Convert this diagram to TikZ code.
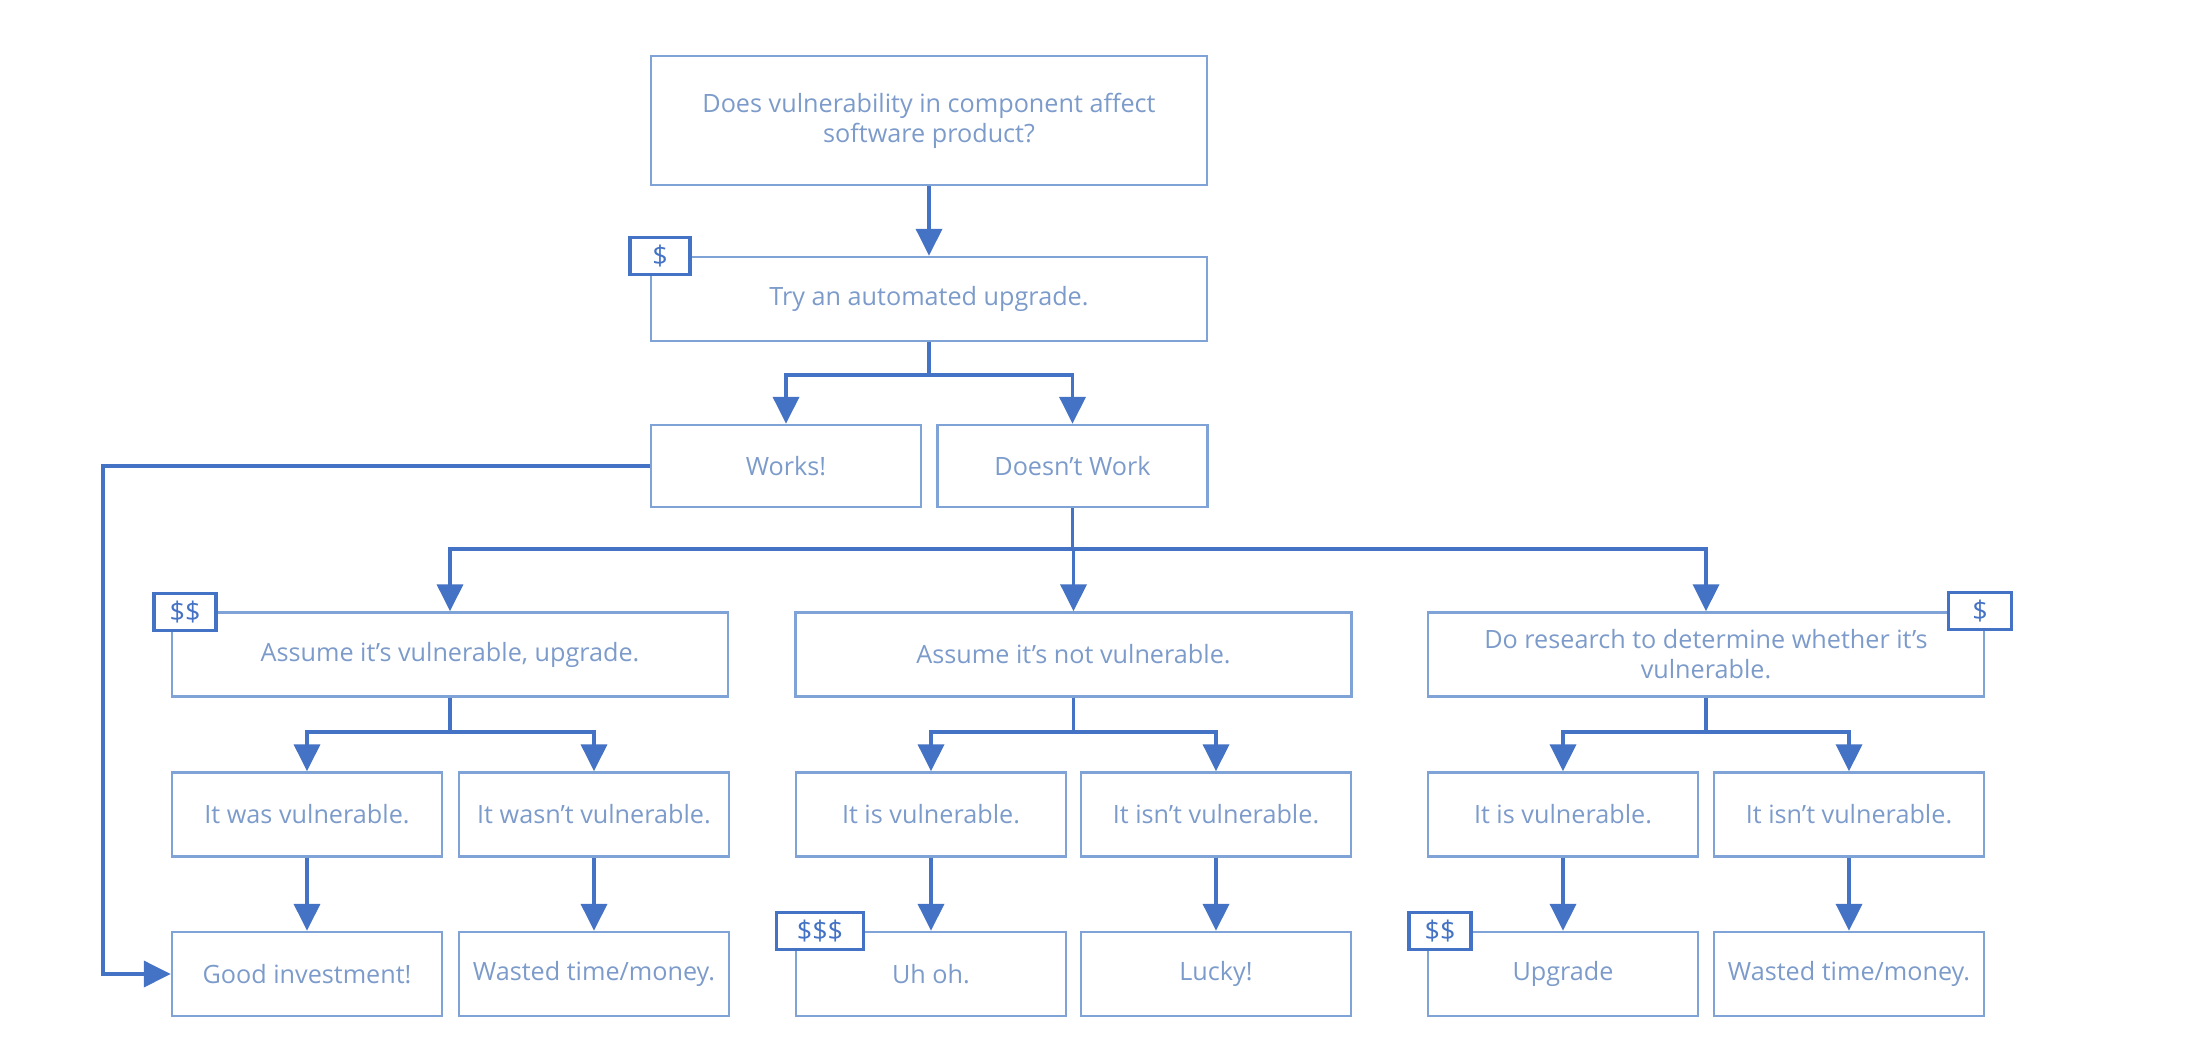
\documentclass[tikz,border=0pt]{standalone}
\usepackage{fontspec}
\setmainfont{Open Sans}
\usepackage{xcolor}
\usetikzlibrary{arrows.meta}
\definecolor{boxline}{HTML}{7FA3D7}
\definecolor{boxtext}{HTML}{7C9BCA}
\definecolor{linkblue}{HTML}{4472C4}

\begin{document}
\begin{tikzpicture}[x=0.5pt,y=-0.5pt,
  box/.style={draw=boxline, line width=1.2pt, text=boxtext, align=center, inner sep=0pt,
    minimum height=42pt, font=\fontsize{12.6}{15}\selectfont},
  wide/.style={box, minimum width=278pt},
  half/.style={box, minimum width=135pt},
  cost/.style={draw=linkblue, line width=1.8pt, fill=white, text=linkblue, inner sep=0pt,
    minimum height=18.5pt, font=\fontsize{13.5}{15}\selectfont},
  link/.style={draw=linkblue, line width=1.8pt, -{Triangle[length=13.5pt,width=13pt]}}]
\useasboundingbox (0,0) rectangle (2186,1054);
\node [wide, minimum height=64.5pt] (question) at (929,120.5)
  {Does vulnerability in component affect\\software product?};
\node [wide] (autoup) at (929,299) {Try an automated upgrade.};
\node [half, minimum height=41pt] (works) at (786,466) {Works!};
\node [half, minimum height=41pt] (fails) at (1072.5,466) {Doesn’t Work};
\node [wide] (assumeyes) at (450,654.5) {Assume it’s vulnerable, upgrade.};
\node [wide] (assumeno) at (1073.5,654.5) {Assume it’s not vulnerable.};
\node [wide] (research) at (1706,654.5) {Do research to determine whether it’s\\vulnerable.};
\node [half] (wasvuln) at (307,814.5) {It was vulnerable.};
\node [half] (wasnt) at (594,814.5) {It wasn’t vulnerable.};
\node [half] (isvuln) at (931,814.5) {It is vulnerable.};
\node [half] (isnt) at (1216,814.5) {It isn’t vulnerable.};
\node [half] (foundvuln) at (1563,814.5) {It is vulnerable.};
\node [half] (foundnot) at (1849,814.5) {It isn’t vulnerable.};
\node [half] (good) at (307,974) {Good investment!};
\node [half] (wasted) at (594,974) {Wasted time/money.};
\node [half] (uhoh) at (931,974) {Uh oh.};
\node [half] (lucky) at (1216,974) {Lucky!};
\node [half] (upgrade) at (1563,974) {Upgrade};
\node [half] (wastedtoo) at (1849,974) {Wasted time/money.};

\draw [link] (question.south) -- (autoup.north);
\draw [link] (autoup.south) -- ++(0,33) -| (works.north);
\draw [link] (autoup.south) -- ++(0,33) -| (fails.north);
\draw [link] (works.west) -- ++(-547,0) |- (good.west);
\foreach \kid in {assumeyes,assumeno,research}
  \draw [link] (fails.south) -- ++(0,41) -| (\kid.north);
\foreach \up/\left/\right in {assumeyes/wasvuln/wasnt, assumeno/isvuln/isnt,
    research/foundvuln/foundnot}{
  \draw [link] (\up.south) -- ++(0,34) -| (\left.north);
  \draw [link] (\up.south) -- ++(0,34) -| (\right.north);
}
\foreach \up/\down in {wasvuln/good, wasnt/wasted, isvuln/uhoh, isnt/lucky,
    foundvuln/upgrade, foundnot/wastedtoo}
  \draw [link] (\up.south) -- (\down.north);

\node [cost, minimum width=30pt] (cheap) at (660,256) {\$};
\node [cost, minimum width=31pt] (pricey) at (185,612) {\$\$};
\node [cost, minimum width=31.5pt] (cheaptoo) at (1980,611) {\$};
\node [cost, minimum width=43.5pt] (costly) at (820,931) {\$\$\$};
\node [cost, minimum width=31pt] (priceytoo) at (1440,931) {\$\$};
\end{tikzpicture}
\end{document}
